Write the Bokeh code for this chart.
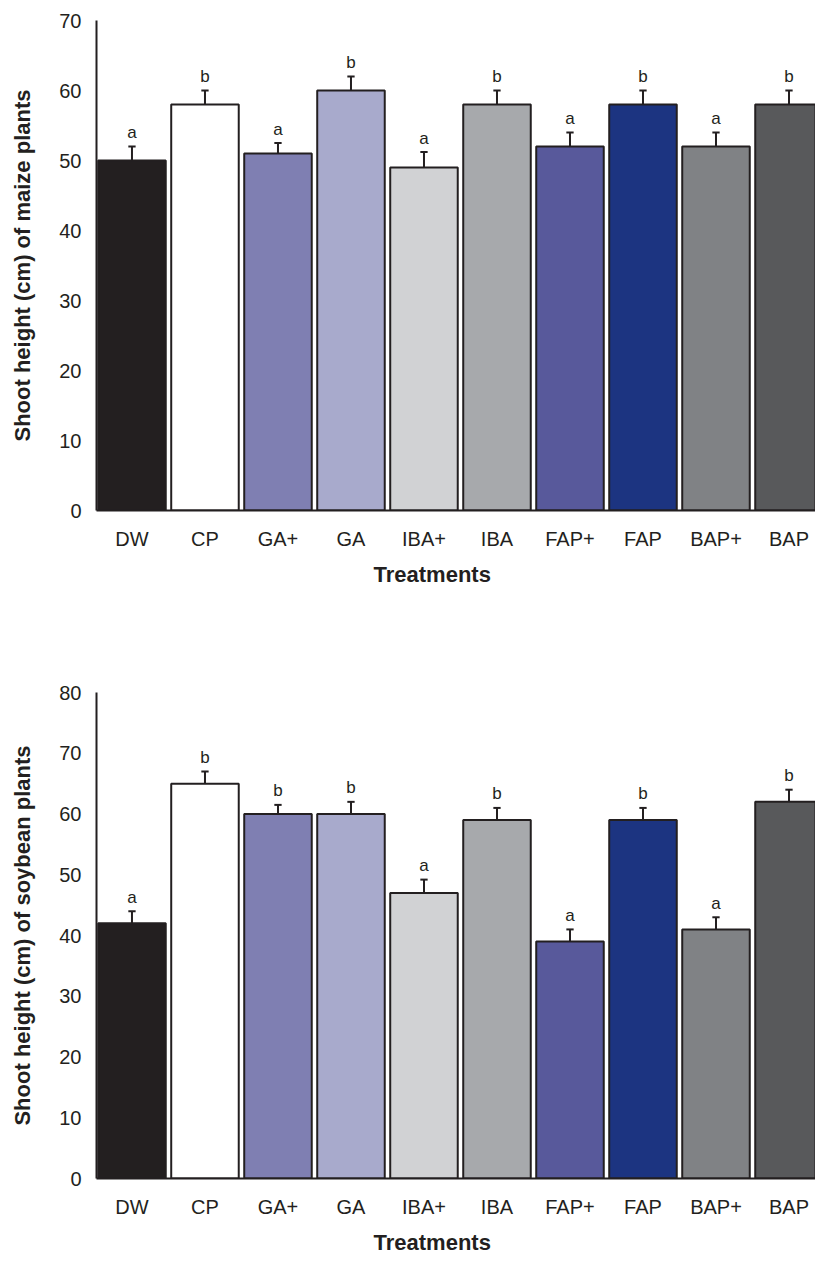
from bokeh.plotting import figure
from bokeh.layouts import column
from bokeh.models import Range1d, FixedTicker, ColumnDataSource, Title
from bokeh.embed import file_html
from bokeh.resources import INLINE

treatments = ["DW", "CP", "GA+", "GA", "IBA+", "IBA", "FAP+", "FAP", "BAP+", "BAP"]
colors = ["#231f20", "#ffffff", "#7f7fb2", "#a8aacc", "#d1d2d4",
          "#a7a9ac", "#58599b", "#1c3481", "#808285", "#58595b"]

maize_height = [50, 58, 51, 60, 49, 58, 52, 58, 52, 58]
maize_err = [2, 2, 1.5, 2, 2.2, 2, 2, 2, 2, 2]
maize_letters = ["a", "b", "a", "b", "a", "b", "a", "b", "a", "b"]

soy_height = [42, 65, 60, 60, 47, 59, 39, 59, 41, 62]
soy_err = [2, 2, 1.5, 2, 2.2, 2, 2, 2, 2, 2]
soy_letters = ["a", "b", "b", "b", "a", "b", "a", "b", "a", "b"]

FONT = "Liberation Sans"
DARK = "#231f20"


def make_chart(values, errs, letters, ymax, ylabel, height, border_top, border_bottom):
    xs = list(range(len(treatments)))
    tops = [v + e for v, e in zip(values, errs)]
    src = ColumnDataSource(dict(
        x=xs, top=values, tip=tops, color=colors, letter=letters,
        cap_l=[x - 0.05 for x in xs], cap_r=[x + 0.05 for x in xs],
    ))
    p = figure(width=815, height=height, output_backend="svg", toolbar_location=None,
               x_range=Range1d(-0.486, 9.363), y_range=Range1d(0, ymax),
               min_border_left=96, min_border_right=0,
               min_border_top=border_top, min_border_bottom=border_bottom)
    p.vbar(x="x", top="top", bottom=0, width=0.925, fill_color="color",
           line_color=DARK, line_width=2, source=src)
    p.segment(x0="x", y0="top", x1="x", y1="tip", line_color=DARK, line_width=2, source=src)
    p.segment(x0="cap_l", y0="tip", x1="cap_r", y1="tip", line_color=DARK, line_width=2, source=src)
    p.text(x="x", y="tip", text="letter", text_align="center", text_baseline="alphabetic",
           y_offset=-14, text_font_size="17px", text_color=DARK,
           text_font={"value": FONT}, source=src)

    p.xgrid.visible = False
    p.ygrid.visible = False
    p.outline_line_color = None

    p.xaxis.ticker = FixedTicker(ticks=xs)
    p.xaxis.major_label_overrides = {i: t for i, t in enumerate(treatments)}
    p.yaxis.ticker = FixedTicker(ticks=list(range(0, ymax + 1, 10)))

    for ax in (p.xaxis[0], p.yaxis[0]):
        ax.major_tick_line_color = None
        ax.minor_tick_line_color = None
        ax.axis_line_color = DARK
        ax.axis_line_width = 2
        ax.major_label_text_font = FONT
        ax.major_label_text_font_size = "20px"
        ax.major_label_text_color = DARK
        ax.axis_label_text_font = FONT
        ax.axis_label_text_font_size = "22px"
        ax.axis_label_text_font_style = "bold"
        ax.axis_label_text_color = DARK

    p.xaxis.major_label_standoff = 11
    p.yaxis.axis_label = ylabel
    p.yaxis.major_label_standoff = 9
    p.yaxis.axis_label_standoff = 21

    p.add_layout(Title(text="Treatments", align="left", offset=277, standoff=14,
                       text_font=FONT, text_font_size="22px", text_font_style="bold",
                       text_color=DARK), "below")
    return p


p1 = make_chart(maize_height, maize_err, maize_letters, 70,
                "Shoot height (cm) of maize plants", 640, 20, 130)
p2 = make_chart(soy_height, soy_err, soy_letters, 80,
                "Shoot height (cm) of soybean plants", 621, 52, 79)

layout = column(p1, p2)
open("out.html", "w").write(file_html(layout, INLINE))
